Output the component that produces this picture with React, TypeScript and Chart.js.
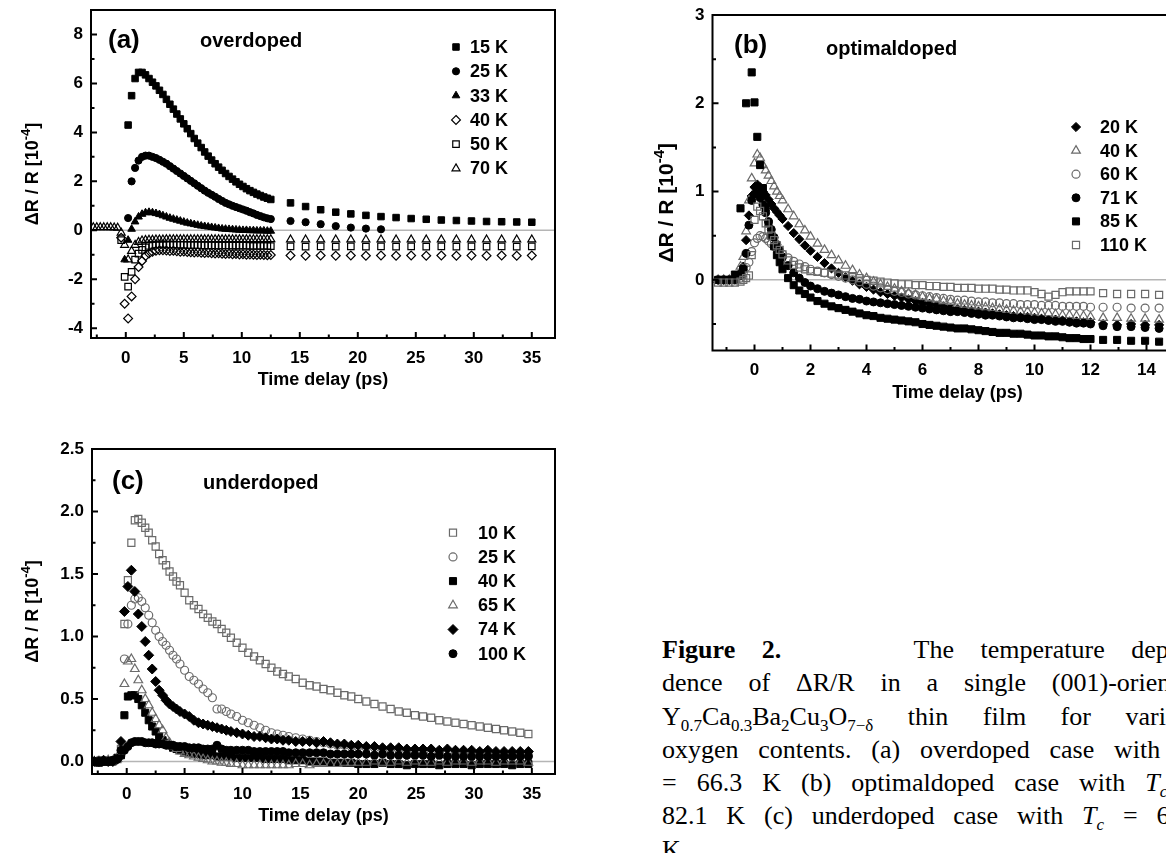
import React, { useEffect, useRef } from 'react';
import { Chart, registerables } from 'chart.js';

Chart.register(...registerables);

const SANS = "'Liberation Sans', Arial, Helvetica, sans-serif";
const SERIF = "'Liberation Serif', 'DejaVu Serif', 'Times New Roman', serif";

// ---------------- Panel (a) overdoped ----------------
const timeA = [-2.8, -2.5, -2.2, -1.9, -1.6, -1.3, -1.0, -0.7, -0.4, -0.1, 0.2, 0.5, 0.8, 1.1, 1.4, 1.7, 2.0, 2.3, 2.6, 2.9,
  3.2, 3.5, 3.8, 4.1, 4.4, 4.7, 5.0, 5.3, 5.6, 5.9, 6.2, 6.5, 6.8, 7.1, 7.4, 7.7, 8.0, 8.3, 8.6, 8.9,
  9.2, 9.5, 9.8, 10.1, 10.4, 10.7, 11.0, 11.3, 11.6, 11.9, 12.2, 12.5,
  14.2, 15.5, 16.8, 18.1, 19.4, 20.7, 22.0, 23.3, 24.6, 25.9, 27.2, 28.5, 29.8, 31.1, 32.4, 33.7, 35.0];
const a15K = [null, null, null, null, null, null, null, null, null, null,
  4.3, 5.5, 6.2, 6.45, 6.45, 6.35, 6.2, 6.05, 5.9, 5.72, 5.55, 5.35, 5.15, 4.95, 4.75, 4.55, 4.35, 4.15, 3.95, 3.75,
  3.56, 3.38, 3.2, 3.03, 2.87, 2.72, 2.58, 2.45, 2.32, 2.2, 2.09, 1.98, 1.88, 1.79, 1.7, 1.62, 1.55, 1.48, 1.42, 1.36, 1.31, 1.26,
  1.12, 0.97, 0.84, 0.74, 0.67, 0.61, 0.56, 0.52, 0.48, 0.45, 0.42, 0.4, 0.38, 0.36, 0.35, 0.34, 0.33];
const a25K = [null, null, null, null, null, null, null, null, null, null,
  0.5, 2.0, 2.55, 2.85, 3.0, 3.05, 3.05, 3.0, 2.95, 2.88, 2.8, 2.72, 2.62, 2.52, 2.42, 2.32, 2.22, 2.12, 2.02, 1.92,
  1.82, 1.72, 1.62, 1.53, 1.45, 1.37, 1.28, 1.2, 1.12, 1.06, 1.0, 0.95, 0.9, 0.85, 0.8, 0.74, 0.69, 0.63, 0.58, 0.53, 0.49, 0.46,
  0.38, 0.33, 0.25, 0.17, 0.11, 0.07, 0.04, null, null, null, null, null, null, null, null, null, null];
const a33K = [null, null, null, null, null, null, null, null, null, -1.2,
  -0.4, 0.05, 0.35, 0.55, 0.66, 0.72, 0.74, 0.72, 0.69, 0.65, 0.6, 0.55, 0.5, 0.46, 0.42, 0.38, 0.34, 0.3, 0.27, 0.24,
  0.21, 0.18, 0.16, 0.14, 0.12, 0.1, 0.08, 0.06, 0.05, 0.04, 0.03, 0.02, 0.01, 0.0, 0.0, -0.01, -0.01, -0.02, -0.02, -0.02, -0.03, -0.03,
  null, null, null, null, null, null, null, null, null, null, null, null, null, null, null, null, null];
const a40K = [null, null, null, null, null, null, null, null, -0.3, -3.0,
  -3.6, -2.7, -2.0, -1.5, -1.25, -1.05, -0.95, -0.88, -0.84, -0.82, -0.82, -0.83, -0.85, -0.84, -0.86, -0.88, -0.87, -0.89, -0.9, -0.91,
  -0.9, -0.92, -0.93, -0.92, -0.94, -0.95, -0.94, -0.96, -0.97, -0.96, -0.98, -0.97, -0.99, -0.98, -1.0, -0.99, -1.0, -1.01, -1.0, -1.01, -1.02, -1.01,
  -1.03, -1.04, -1.03, -1.04, -1.03, -1.04, -1.03, -1.04, -1.03, -1.04, -1.03, -1.04, -1.03, -1.04, -1.03, -1.04, -1.03];
const a50K = [null, null, null, null, null, null, null, null, -0.4, -1.9,
  -2.3, -1.7, -1.2, -0.95, -0.8, -0.7, -0.64, -0.6, -0.58, -0.57, -0.57, -0.58, -0.58, -0.58, -0.59, -0.59, -0.59, -0.6, -0.6, -0.6,
  -0.6, -0.61, -0.61, -0.61, -0.61, -0.62, -0.62, -0.62, -0.62, -0.62, -0.63, -0.63, -0.63, -0.63, -0.63, -0.64, -0.64, -0.64, -0.64, -0.64, -0.64, -0.65,
  -0.66, -0.67, -0.66, -0.67, -0.66, -0.67, -0.66, -0.67, -0.66, -0.67, -0.66, -0.67, -0.66, -0.67, -0.66, -0.67, -0.66];
const a70K = [0.12, 0.12, 0.12, 0.12, 0.12, 0.12, 0.11, 0.1, -0.1, -0.6,
  -1.2, -0.85, -0.6, -0.48, -0.42, -0.4, -0.39, -0.39, -0.38, -0.38, -0.38, -0.37, -0.37, -0.37, -0.37, -0.37, -0.37, -0.37, -0.37, -0.37,
  -0.37, -0.37, -0.37, -0.37, -0.37, -0.37, -0.37, -0.37, -0.37, -0.37, -0.37, -0.37, -0.37, -0.37, -0.37, -0.37, -0.37, -0.37, -0.37, -0.37, -0.37, -0.37,
  -0.38, -0.38, -0.38, -0.38, -0.38, -0.38, -0.38, -0.38, -0.38, -0.38, -0.38, -0.38, -0.38, -0.38, -0.38, -0.38, -0.38];
const xTicksA = [0, 5, 10, 15, 20, 25, 30, 35];
const xMinorA = [-2.5, 2.5, 7.5, 12.5, 17.5, 22.5, 27.5, 32.5];
const yTicksA = [-4, -2, 0, 2, 4, 6, 8];
const yMinorA = [-3, -1, 1, 3, 5, 7];

// ---------------- Panel (b) optimaldoped ----------------
const timeB = [-1.3, -1.1, -0.9, -0.7, -0.5, -0.4, -0.3, -0.2, -0.1, 0, 0.1, 0.2, 0.3, 0.4, 0.5, 0.6, 0.7, 0.8, 0.9, 1.0,
  1.2, 1.4, 1.6, 1.8, 2.0, 2.25, 2.5, 2.75, 3.0, 3.25, 3.5, 3.75, 4.0, 4.25, 4.5, 4.75, 5.0, 5.25, 5.5, 5.75,
  6.0, 6.25, 6.5, 6.75, 7.0, 7.25, 7.5, 7.75, 8.0, 8.25, 8.5, 8.75, 9.0, 9.25, 9.5, 9.75, 10.0, 10.25, 10.5, 10.75,
  11.0, 11.25, 11.5, 11.75, 12.0, 12.45, 12.95, 13.45, 13.95, 14.45, 14.95];
const b20K = [0.0, 0.0, 0.0, 0.01, 0.08, 0.15, 0.45, 0.73, 0.95, 1.05, 1.08, 1.05, 1.0, 0.96, 0.91, 0.86, 0.81, 0.77, 0.73, 0.69,
  0.61, 0.53, 0.46, 0.39, 0.33, 0.26, 0.19, 0.13, 0.08, 0.03, -0.01, -0.05, -0.08, -0.11, -0.14, -0.16, -0.18, -0.2, -0.22, -0.24,
  -0.26, -0.27, -0.29, -0.3, -0.32, -0.33, -0.34, -0.35, -0.36, -0.37, -0.38, -0.39, -0.4, -0.41, -0.42, -0.42, -0.43, -0.44, -0.45, -0.45,
  -0.46, -0.47, -0.47, -0.48, -0.48, -0.5, -0.51, -0.5, -0.51, -0.51, -0.52];
const b40K = [0.0, 0.0, 0.0, 0.0, 0.15, 0.26, 0.55, 0.9, 1.15, 1.32, 1.42, 1.38, 1.3, 1.24, 1.18, 1.12, 1.06, 1.0, 0.95, 0.9,
  0.8, 0.72, 0.63, 0.56, 0.49, 0.41, 0.34, 0.28, 0.22, 0.16, 0.11, 0.06, 0.02, -0.02, -0.05, -0.08, -0.1, -0.13, -0.15, -0.17,
  -0.19, -0.21, -0.22, -0.24, -0.25, -0.27, -0.28, -0.29, -0.3, -0.31, -0.32, -0.33, -0.34, -0.35, -0.36, -0.36, -0.37, -0.38, -0.38, -0.39,
  -0.4, -0.4, -0.41, -0.41, -0.42, -0.43, -0.43, -0.44, -0.44, -0.45, -0.45];
const b60K = [0.0, 0.0, 0.0, 0.0, 0.02, 0.08, 0.14, 0.2, 0.32, 0.42, 0.47, 0.5, 0.49, 0.47, 0.44, 0.41, 0.38, 0.35, 0.32, 0.29,
  0.25, 0.21, 0.18, 0.15, 0.12, 0.1, 0.08, 0.06, 0.04, 0.02, 0.0, -0.02, -0.05, -0.07, -0.09, -0.11, -0.13, -0.14, -0.16, -0.17,
  -0.18, -0.19, -0.2, -0.21, -0.22, -0.23, -0.23, -0.24, -0.25, -0.25, -0.26, -0.26, -0.27, -0.27, -0.28, -0.28, -0.28, -0.29, -0.29, -0.29,
  -0.3, -0.3, -0.3, -0.3, -0.31, -0.31, -0.31, -0.32, -0.32, -0.32, -0.32];
const b71K = [0.0, 0.0, 0.0, 0.0, 0.05, 0.12, 0.3, 0.62, 0.9, 0.97, 0.98, 0.93, 0.85, 0.76, 0.66, 0.57, 0.48, 0.4, 0.33, 0.26,
  0.16, 0.08, 0.02, -0.03, -0.07, -0.1, -0.13, -0.15, -0.17, -0.19, -0.21, -0.22, -0.24, -0.25, -0.26, -0.27, -0.28, -0.29, -0.3, -0.31,
  -0.32, -0.33, -0.34, -0.35, -0.36, -0.36, -0.37, -0.38, -0.39, -0.4, -0.4, -0.41, -0.42, -0.43, -0.43, -0.44, -0.45, -0.45, -0.46, -0.47,
  -0.47, -0.48, -0.49, -0.49, -0.5, -0.52, -0.53, -0.53, -0.54, -0.55, -0.55];
const b85K = [0.0, 0.0, 0.0, 0.06, 0.81, null, 2.0, null, 2.35, 2.01, 1.62, 1.3, 1.04, 0.82, 0.64, 0.5, 0.38, 0.28, 0.2, 0.12,
  0.02, -0.06, -0.12, -0.16, -0.2, -0.24, -0.27, -0.3, -0.32, -0.34, -0.36, -0.38, -0.4, -0.41, -0.43, -0.44, -0.45, -0.46, -0.47, -0.48,
  -0.5, -0.51, -0.52, -0.53, -0.54, -0.55, -0.55, -0.56, -0.57, -0.58, -0.59, -0.6, -0.6, -0.61, -0.61, -0.62, -0.63, -0.63, -0.64, -0.64,
  -0.65, -0.66, -0.66, -0.67, -0.67, -0.68, -0.68, -0.69, -0.69, -0.7, -0.7];
const b110K = [-0.03, -0.03, -0.03, -0.03, -0.02, 0.0, 0.02, 0.05, 0.28, 0.68, 0.83, 0.78, 0.72, 0.64, 0.57, 0.5, 0.45, 0.39, 0.34, 0.29,
  0.22, 0.17, 0.14, 0.12, 0.1, 0.09, 0.08, 0.07, 0.06, 0.05, 0.03, 0.02, 0.0, -0.01, -0.02, -0.03, -0.04, -0.05, -0.05, -0.06,
  -0.06, -0.07, -0.07, -0.08, -0.08, -0.09, -0.09, -0.09, -0.1, -0.1, -0.1, -0.11, -0.11, -0.12, -0.12, -0.12, -0.14, -0.16, -0.19, -0.17,
  -0.14, -0.13, -0.13, -0.13, -0.13, -0.15, -0.16, -0.16, -0.16, -0.17, -0.17];
const xTicksB = [0, 2, 4, 6, 8, 10, 12, 14];
const xMinorB = [-1, 1, 3, 5, 7, 9, 11, 13, 15];
const yTicksB = [0, 1, 2, 3];
const yMinorB = [-0.5, 0.5, 1.5, 2.5];

// ---------------- Panel (c) underdoped ----------------
const timeC = [-2.8, -2.4, -2.0, -1.6, -1.2, -0.8, -0.5, -0.2,
  0.1, 0.4, 0.7, 1.0, 1.3, 1.6, 1.9, 2.2, 2.5, 2.8, 3.1, 3.4, 3.7, 4.0, 4.3, 4.6,
  5.0, 5.4, 5.8, 6.2, 6.6, 7.0, 7.4, 7.8, 8.2, 8.6, 9.0, 9.5, 10.0, 10.5, 11.0, 11.5, 12.0, 12.5, 13.0, 13.5, 14.0,
  14.6, 15.2, 15.8, 16.4, 17.0, 17.6, 18.2, 18.8, 19.4, 20.0,
  20.7, 21.4, 22.1, 22.8, 23.5, 24.2, 24.9, 25.6, 26.3, 27.0, 27.7, 28.4, 29.1, 29.8, 30.5, 31.2, 31.9, 32.6, 33.3, 34.0, 34.7];
const c10K = [0.0, 0.0, 0.01, 0.0, 0.01, 0.02, 0.1, 1.1,
  1.45, 1.75, 1.93, 1.94, 1.91, 1.87, 1.83, 1.77, 1.72, 1.66, 1.61, 1.57, 1.52, 1.48, 1.44, 1.41,
  1.35, 1.29, 1.25, 1.22, 1.18, 1.15, 1.12, 1.1, 1.06, 1.03, 0.99, 0.95, 0.91, 0.87, 0.84, 0.81, 0.78, 0.75, 0.72, 0.7, 0.68,
  0.66, 0.63, 0.61, 0.6, 0.58, 0.57, 0.55, 0.53, 0.52, 0.5,
  0.48, 0.46, 0.44, 0.42, 0.4, 0.39, 0.37, 0.36, 0.35, 0.33, 0.32, 0.31, 0.3, 0.29, 0.28, 0.27, 0.26, 0.25, 0.24, 0.23, 0.22];
const c25K = [0.0, 0.01, 0.0, 0.0, 0.01, 0.02, 0.05, 0.82,
  1.1, 1.25, 1.3, 1.31, 1.28, 1.23, 1.17, 1.11, 1.05, 1.0, 0.96, 0.93, 0.89, 0.85, 0.82, 0.78,
  0.73, 0.68, 0.65, 0.62, 0.58, 0.55, 0.51, 0.42, 0.42, 0.4, 0.38, 0.36, 0.33, 0.31, 0.29, 0.27, 0.25, 0.23, 0.22, 0.21, 0.2,
  0.19, 0.18, 0.17, 0.16, 0.15, 0.14, 0.13, 0.13, 0.12, 0.12,
  0.11, 0.11, 0.1, 0.1, 0.1, 0.09, 0.09, 0.09, 0.08, 0.08, 0.08, 0.07, 0.07, 0.07, 0.07, 0.06, 0.06, 0.06, 0.06, 0.05, 0.05];
const c40K = [0.0, -0.01, 0.0, 0.0, 0.0, 0.03, 0.05, 0.37,
  0.52, 0.53, 0.53, 0.5, 0.45, 0.39, 0.33, 0.28, 0.24, 0.2, 0.17, 0.15, 0.13, 0.11, 0.1, 0.09,
  0.08, 0.07, 0.06, 0.06, 0.05, 0.05, 0.05, 0.04, 0.04, 0.04, 0.04, 0.03, 0.03, 0.03, 0.03, 0.03, 0.02, 0.02, 0.02, 0.02, 0.01,
  0.01, 0.01, 0.0, 0.0, 0.0, -0.01, -0.01, -0.01, -0.01, -0.02,
  -0.02, -0.02, -0.01, -0.02, -0.02, -0.03, -0.02, -0.02, -0.02, -0.03, -0.02, -0.02, -0.02, -0.03, -0.02, -0.02, -0.02, -0.02, -0.03, -0.02, -0.02];
const c65K = [0.0, 0.0, 0.0, 0.01, 0.0, 0.02, 0.08, 0.62,
  0.8, 0.82, 0.74, 0.65, 0.57, 0.5, 0.45, 0.39, 0.34, 0.29, 0.25, 0.19, 0.15, 0.12, 0.1, 0.08,
  0.06, 0.05, 0.04, 0.03, 0.02, 0.01, 0.0, 0.0, -0.01, -0.01, -0.02, -0.02, -0.03, -0.03, -0.03, -0.03, -0.03, -0.03, -0.03, -0.03, -0.03,
  -0.02, -0.02, -0.03, -0.02, -0.02, -0.02, -0.02, -0.01, -0.01, -0.01,
  -0.01, 0.0, -0.01, -0.01, 0.0, -0.01, 0.0, -0.01, -0.01, 0.0, -0.01, 0.0, 0.0, -0.01, 0.0, 0.0, -0.01, 0.0, 0.0, 0.0, -0.01];
const c74K = [0.0, 0.0, 0.01, 0.0, 0.0, 0.02, 0.16, 1.2,
  1.4, 1.53, 1.36, 1.18, 1.08, 0.96, 0.85, 0.74, 0.64, 0.57, 0.53, 0.49, 0.46, 0.44, 0.42, 0.4,
  0.38, 0.36, 0.33, 0.31, 0.3, 0.29, 0.28, 0.27, 0.26, 0.25, 0.24, 0.23, 0.22, 0.21, 0.2, 0.2, 0.19, 0.18, 0.18, 0.17, 0.17,
  0.16, 0.16, 0.16, 0.15, 0.16, 0.15, 0.14, 0.14, 0.13, 0.13,
  0.12, 0.12, 0.11, 0.11, 0.11, 0.1, 0.1, 0.1, 0.1, 0.09, 0.1, 0.09, 0.09, 0.09, 0.08, 0.09, 0.08, 0.08, 0.08, 0.08, 0.08];
const c100K = [0.0, 0.0, 0.0, 0.0, 0.01, 0.02, 0.09, 0.09,
  0.12, 0.15, 0.16, 0.16, 0.16, 0.15, 0.15, 0.15, 0.14, 0.14, 0.14, 0.13, 0.13, 0.13, 0.12, 0.12,
  0.12, 0.11, 0.11, 0.11, 0.1, 0.1, 0.1, 0.13, 0.1, 0.09, 0.09, 0.09, 0.09, 0.09, 0.08, 0.08, 0.08, 0.08, 0.08, 0.08, 0.07,
  0.07, 0.07, 0.07, 0.07, 0.07, 0.06, 0.06, 0.06, 0.06, 0.06,
  0.06, 0.05, 0.06, 0.05, 0.05, 0.05, 0.05, 0.05, 0.04, 0.05, 0.04, 0.04, 0.04, 0.04, 0.04, 0.04, 0.04, 0.04, 0.04, 0.04, 0.04];
const xTicksC = [0, 5, 10, 15, 20, 25, 30, 35];
const xMinorC = [-2.5, 2.5, 7.5, 12.5, 17.5, 22.5, 27.5, 32.5];
const yTicksC = [0, 0.5, 1.0, 1.5, 2.0, 2.5];
const yMinorC = [0.25, 0.75, 1.25, 1.75, 2.25];

const X_TITLE = 'Time delay (ps)';
const GRAY = '#6a6a6a';

type Series = { label: string; values: (number | null)[]; style: string; filled: boolean; radius: number; color: string };

function drawMarker(ctx: CanvasRenderingContext2D, s: Series, x: number, y: number) {
  const r = s.radius;
  ctx.save();
  ctx.beginPath();
  if (s.style === 'circle') {
    ctx.arc(x, y, r, 0, Math.PI * 2);
  } else if (s.style === 'rect') {
    const h = r * Math.SQRT1_2;
    ctx.rect(x - h, y - h, 2 * h, 2 * h);
  } else if (s.style === 'rectRot') {
    ctx.moveTo(x, y - r); ctx.lineTo(x + r, y); ctx.lineTo(x, y + r); ctx.lineTo(x - r, y); ctx.closePath();
  } else {
    ctx.moveTo(x, y - r);
    ctx.lineTo(x + r * 0.866, y + r * 0.5);
    ctx.lineTo(x - r * 0.866, y + r * 0.5);
    ctx.closePath();
  }
  if (s.filled) { ctx.fillStyle = s.color; ctx.fill(); }
  ctx.lineWidth = s.filled ? 1 : 1.2;
  ctx.strokeStyle = s.color;
  ctx.stroke();
  ctx.restore();
}

function drawYTitle(ctx: CanvasRenderingContext2D, cx: number, cy: number, size: number) {
  ctx.save();
  ctx.translate(cx, cy);
  ctx.rotate(-Math.PI / 2);
  const big = `bold ${size}px ${SANS}`;
  const small = `bold ${Math.round(size * 0.72)}px ${SANS}`;
  const a = 'ΔR / R [10', b = '-4', c = ']';
  ctx.font = big; const wa = ctx.measureText(a).width; const wc = ctx.measureText(c).width;
  ctx.font = small; const wb = ctx.measureText(b).width;
  let xx = -(wa + wb + wc) / 2;
  ctx.fillStyle = '#000';
  ctx.textAlign = 'left';
  ctx.textBaseline = 'alphabetic';
  const base = size * 0.35;
  ctx.font = big; ctx.fillText(a, xx, base); xx += wa;
  ctx.font = small; ctx.fillText(b, xx, base - size * 0.45); xx += wb;
  ctx.font = big; ctx.fillText(c, xx, base);
  ctx.restore();
}

type PanelSpec = any;

function makeDecor(spec: PanelSpec) {
  return {
    id: 'decor',
    beforeDatasetsDraw(chart: any) {
      const { ctx, chartArea: ca, scales } = chart;
      const y0 = scales.y.getPixelForValue(0);
      ctx.save();
      ctx.strokeStyle = '#b5b5b5';
      ctx.lineWidth = 1.5;
      ctx.beginPath(); ctx.moveTo(ca.left, y0); ctx.lineTo(ca.right, y0); ctx.stroke();
      ctx.restore();
    },
    afterDraw(chart: any) {
      const { ctx, chartArea: ca, scales } = chart;
      const x = scales.x, y = scales.y;
      ctx.save();
      ctx.strokeStyle = '#000';
      ctx.lineWidth = 2;
      ctx.strokeRect(ca.left, ca.top, ca.right - ca.left, ca.bottom - ca.top);
      ctx.beginPath();
      spec.xTicks.forEach((v: number) => { const p = x.getPixelForValue(v); ctx.moveTo(p, ca.bottom); ctx.lineTo(p, ca.bottom - 6); });
      spec.xMinor.forEach((v: number) => { const p = x.getPixelForValue(v); ctx.moveTo(p, ca.bottom); ctx.lineTo(p, ca.bottom - 3.5); });
      spec.yTicks.forEach((v: number) => { const p = y.getPixelForValue(v); ctx.moveTo(ca.left, p); ctx.lineTo(ca.left + 6, p); });
      spec.yMinor.forEach((v: number) => { const p = y.getPixelForValue(v); ctx.moveTo(ca.left, p); ctx.lineTo(ca.left + 3.5, p); });
      ctx.stroke();

      // legend
      const L = spec.legend;
      ctx.font = `bold 18px ${SANS}`;
      ctx.textBaseline = 'middle';
      ctx.textAlign = 'left';
      spec.series.forEach((s: Series, i: number) => {
        const yy = L.y0 + i * L.dy;
        drawMarker(ctx, s, L.markerX, yy);
        ctx.fillStyle = '#000';
        ctx.fillText(s.label, L.textX, yy + 1);
      });

      // panel tag and doping label
      ctx.fillStyle = '#000';
      ctx.font = `bold 26px ${SANS}`;
      ctx.fillText(spec.tag.text, spec.tag.x, spec.tag.y);
      ctx.font = `bold 20px ${SANS}`;
      ctx.fillText(spec.sub.text, spec.sub.x, spec.sub.y);

      // axis titles
      ctx.font = `bold 18px ${SANS}`;
      ctx.textAlign = 'center';
      ctx.fillText(X_TITLE, (ca.left + ca.right) / 2, ca.bottom + spec.xTitleOffset);
      drawYTitle(ctx, spec.yTitleX, (ca.top + ca.bottom) / 2 + (spec.yTitleShift || 0), spec.yTitleSize || 18);
      ctx.restore();
    },
  };
}

function buildConfig(spec: PanelSpec) {
  const font = { family: SANS, size: 17, weight: 'bold' };
  const datasets = spec.series.map((s: Series, i: number) => {
    const pts: { x: number; y: number }[] = [];
    const n = Math.min(spec.time.length, s.values.length);
    for (let j = 0; j < n; j++) {
      const v = s.values[j];
      if (v !== null && v !== undefined) pts.push({ x: spec.time[j], y: v });
    }
    return {
      label: s.label,
      data: pts,
      pointStyle: s.style,
      pointRadius: s.radius,
      pointHoverRadius: s.radius,
      backgroundColor: s.filled ? s.color : 'rgba(0,0,0,0)',
      pointBackgroundColor: s.filled ? s.color : 'rgba(0,0,0,0)',
      borderColor: s.color,
      pointBorderColor: s.color,
      borderWidth: s.filled ? 1 : 1.2,
      pointBorderWidth: s.filled ? 1 : 1.2,
      showLine: false,
      order: -i,
    };
  });
  return {
    type: 'scatter',
    data: { datasets },
    options: {
      animation: false,
      responsive: false,
      maintainAspectRatio: false,
      events: [],
      layout: { padding: { top: spec.padTop, right: spec.padRight, left: 0, bottom: 0 } },
      plugins: { legend: { display: false }, tooltip: { enabled: false }, title: { display: false } },
      scales: {
        x: {
          type: 'linear', min: spec.xMin, max: spec.xMax,
          grid: { display: false, drawTicks: false }, border: { display: false },
          ticks: { font, color: '#000', padding: 10, maxRotation: 0, autoSkip: false, callback: (v: number) => String(v) },
          afterBuildTicks: (s: any) => { s.ticks = spec.xTicks.map((v: number) => ({ value: v })); },
          afterFit: (s: any) => { s.height = spec.xAxisHeight; s.paddingLeft = 0; s.paddingRight = 0; },
        },
        y: {
          type: 'linear', min: spec.yMin, max: spec.yMax,
          grid: { display: false, drawTicks: false }, border: { display: false },
          ticks: { font, color: '#000', padding: 8, autoSkip: false, callback: (v: number) => Number(v).toFixed(spec.yDecimals) },
          afterBuildTicks: (s: any) => { s.ticks = spec.yTicks.map((v: number) => ({ value: v })); },
          afterFit: (s: any) => { s.width = spec.yAxisWidth; s.paddingTop = 0; s.paddingBottom = 0; },
        },
      },
    },
    plugins: [makeDecor(spec)],
  };
}

const specA: PanelSpec = {
  time: timeA,
  series: [
    { label: '15 K', values: a15K, style: 'rect', filled: true, radius: 4.6, color: '#000' },
    { label: '25 K', values: a25K, style: 'circle', filled: true, radius: 3.6, color: '#000' },
    { label: '33 K', values: a33K, style: 'triangle', filled: true, radius: 4.4, color: '#000' },
    { label: '40 K', values: a40K, style: 'rectRot', filled: false, radius: 4.4, color: '#000' },
    { label: '50 K', values: a50K, style: 'rect', filled: false, radius: 4.6, color: '#000' },
    { label: '70 K', values: a70K, style: 'triangle', filled: false, radius: 4.6, color: '#000' },
  ],
  xMin: -3, xMax: 37, yMin: -4.4, yMax: 9.0,
  xTicks: xTicksA, xMinor: xMinorA, yTicks: yTicksA, yMinor: yMinorA, yDecimals: 0,
  padTop: 10, padRight: 25, yAxisWidth: 91, xAxisHeight: 62,
  legend: { markerX: 456, textX: 470, y0: 47, dy: 24.3 },
  tag: { text: '(a)', x: 108, y: 41 },
  sub: { text: 'overdoped', x: 200, y: 41 },
  yTitleX: 32, xTitleOffset: 42, yTitleSize: 18,
};

const specB: PanelSpec = {
  time: timeB,
  series: [
    { label: '20 K', values: b20K, style: 'rectRot', filled: true, radius: 4.6, color: '#000' },
    { label: '40 K', values: b40K, style: 'triangle', filled: false, radius: 5, color: GRAY },
    { label: '60 K', values: b60K, style: 'circle', filled: false, radius: 4, color: GRAY },
    { label: '71 K', values: b71K, style: 'circle', filled: true, radius: 4, color: '#000' },
    { label: '85 K', values: b85K, style: 'rect', filled: true, radius: 5, color: '#000' },
    { label: '110 K', values: b110K, style: 'rect', filled: false, radius: 5, color: GRAY },
  ],
  xMin: -1.5, xMax: 16, yMin: -0.8, yMax: 3,
  xTicks: xTicksB, xMinor: xMinorB, yTicks: yTicksB, yMinor: yMinorB, yDecimals: 0,
  padTop: 15, padRight: 17.5, yAxisWidth: 132.5, xAxisHeight: 69.5,
  legend: { markerX: 496, textX: 520, y0: 127, dy: 23.6 },
  tag: { text: '(b)', x: 154, y: 46 },
  sub: { text: 'optimaldoped', x: 246, y: 49 },
  yTitleX: 86, xTitleOffset: 43, yTitleShift: 20, yTitleSize: 21,
};

const specC: PanelSpec = {
  time: timeC,
  series: [
    { label: '10 K', values: c10K, style: 'rect', filled: false, radius: 5, color: GRAY },
    { label: '25 K', values: c25K, style: 'circle', filled: false, radius: 4, color: GRAY },
    { label: '40 K', values: c40K, style: 'rect', filled: true, radius: 5, color: '#000' },
    { label: '65 K', values: c65K, style: 'triangle', filled: false, radius: 5, color: GRAY },
    { label: '74 K', values: c74K, style: 'rectRot', filled: true, radius: 5, color: '#000' },
    { label: '100 K', values: c100K, style: 'circle', filled: true, radius: 4, color: '#000' },
  ],
  xMin: -3, xMax: 37, yMin: -0.1, yMax: 2.5,
  xTicks: xTicksC, xMinor: xMinorC, yTicks: yTicksC, yMinor: yMinorC, yDecimals: 1,
  padTop: 19, padRight: 25, yAxisWidth: 92, xAxisHeight: 79,
  legend: { markerX: 453, textX: 478, y0: 102.7, dy: 24.2 },
  tag: { text: '(c)', x: 112, y: 52 },
  sub: { text: 'underdoped', x: 203, y: 53 },
  yTitleX: 32, xTitleOffset: 42, yTitleSize: 18,
};

function Panel({ spec, left, top, width, height }: { spec: PanelSpec; left: number; top: number; width: number; height: number }) {
  const ref = useRef<HTMLCanvasElement>(null);
  useEffect(() => {
    const chart = new Chart(ref.current as HTMLCanvasElement, buildConfig(spec) as any);
    return () => chart.destroy();
  }, [spec]);
  return (
    <canvas
      ref={ref}
      width={width}
      height={height}
      style={{ position: 'absolute', left, top, width, height, display: 'block' }}
    />
  );
}

const lineStyle: React.CSSProperties = { textAlign: 'justify', textAlignLast: 'justify', height: 33.3 };
const subStyle: React.CSSProperties = { fontSize: 17 };

export default function App() {
  return (
    <div style={{ position: 'fixed', left: 0, top: 0, width: 1166, height: 853, overflow: 'hidden', background: '#fff' }}>
      <Panel spec={specA} left={0} top={0} width={580} height={400} />
      <Panel spec={specC} left={0} top={430} width={580} height={423} />
      <Panel spec={specB} left={580} top={0} width={640} height={420} />
      <div
        style={{
          position: 'absolute', left: 662, top: 633, width: 540,
          fontFamily: SERIF, fontSize: 26, lineHeight: '33.3px', color: '#000',
        }}
      >
        <div style={lineStyle}><b>Figure 2.</b>&nbsp;&nbsp;&nbsp;&nbsp; The temperature depen-</div>
        <div style={lineStyle}>dence of ΔR/R in a single (001)-oriented</div>
        <div style={lineStyle}>Y<sub style={subStyle}>0.7</sub>Ca<sub style={subStyle}>0.3</sub>Ba<sub style={subStyle}>2</sub>Cu<sub style={subStyle}>3</sub>O<sub style={subStyle}>7−δ</sub> thin film for various</div>
        <div style={lineStyle}>oxygen contents. (a) overdoped case with <i>T<sub style={subStyle}>c</sub></i></div>
        <div style={lineStyle}>= 66.3 K (b) optimaldoped case with <i>T<sub style={subStyle}>c</sub></i> =</div>
        <div style={lineStyle}>82.1 K (c) underdoped case with <i>T<sub style={subStyle}>c</sub></i> = 63.0</div>
        <div style={{ textAlign: 'left' }}>K.</div>
      </div>
    </div>
  );
}
